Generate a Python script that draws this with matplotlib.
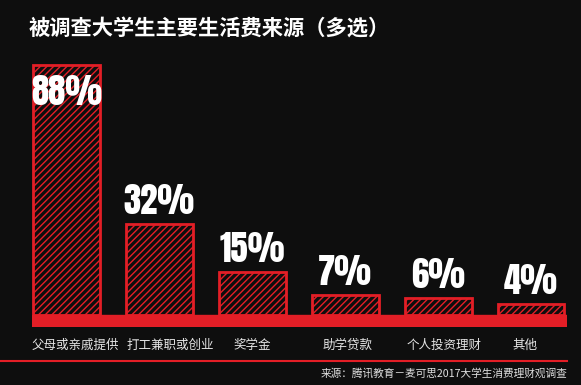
import matplotlib
matplotlib.use("Agg")
import matplotlib.pyplot as plt
from matplotlib.lines import Line2D

categories = ["父母或亲戚提供", "打工兼职或创业", "奖学金", "助学贷款", "个人投资理财", "其他"]
values = [88, 32, 15, 7, 6, 4]
labels = ["88%", "32%", "15%", "7%", "6%", "4%"]
title = "被调查大学生主要生活费来源（多选）"
source = "来源：腾讯教育－麦可思2017大学生消费理财观调查"

# layout: horizontal pixel nudges of category labels
label_nudge = [9, 11, 0, 2, 6, -6]

BG = "#0e0e0e"
RED = "#e31e26"
CJK = ["Noto Sans CJK SC", "DejaVu Sans"]
NUM = ["Anton", "DejaVu Sans"]

plt.rcParams["hatch.linewidth"] = 1.0
W, H = 581, 385
fig = plt.figure(figsize=(W / 100, H / 100), dpi=100, facecolor=BG)

left, right, top, bottom = 32, 567, 59.4, 327
ax = fig.add_axes([left / W, (H - bottom) / H, (right - left) / W, (bottom - top) / H])
ax.set_facecolor(BG)
ax.set_xlim(-0.371, 5.387)
ax.set_ylim(-4.2, 90)
for s in ax.spines.values():
    s.set_visible(False)
ax.set_xticks([])
ax.set_yticks([])

x = list(range(len(values)))
ax.bar(x, values, width=0.72, facecolor=BG, edgecolor=RED, linewidth=2,
       hatch="/////", zorder=2)
ax.axhspan(-4.2, 0, color=RED, zorder=3)

for i, (v, lab) in enumerate(zip(values, labels)):
    off = -40 if i == 0 else 10
    ax.annotate(lab, (i, v), xytext=(0, off), textcoords="offset pixels",
                ha="center", va="baseline", color="white", fontsize=25,
                family=NUM, zorder=5)

for i, (cat, nud) in enumerate(zip(categories, label_nudge)):
    ax.annotate(cat, (i, -4.2), xytext=(nud, -18), textcoords="offset pixels",
                ha="center", va="center", color="#e6e6e6", fontsize=9,
                family=CJK, annotation_clip=False)

fig.text(29 / W, 1 - 36 / H, title, family=CJK, fontsize=15.3, fontweight="bold",
         color="white", ha="left", va="baseline")

fig.add_artist(Line2D([0, 567 / W], [1 - 361 / H, 1 - 361 / H], color=RED, linewidth=1.5))
fig.text(567 / W, 1 - 373 / H, source, family=CJK, fontsize=7.7, color="#e0e0e0",
         ha="right", va="center")

fig.savefig("out.png", dpi=100, facecolor=BG)
